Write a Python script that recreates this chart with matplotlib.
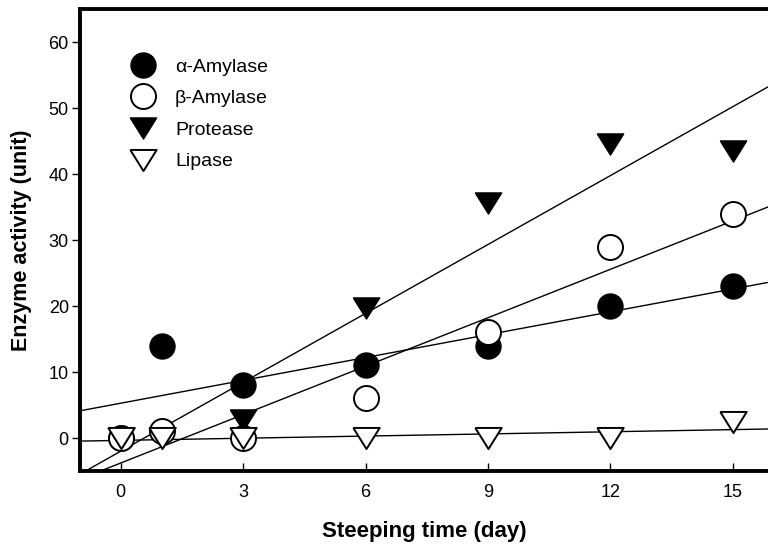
import numpy as np
import matplotlib
matplotlib.use("Agg")
import matplotlib.pyplot as plt
from matplotlib.lines import Line2D

plt.rcParams['font.family'] = ['Liberation Sans', 'DejaVu Sans']

# Steeping time (days) and enzyme activities
days = [0, 1, 3, 6, 9, 12, 15]
alpha_amylase = [0, 14, 8, 11, 14, 20, 23]
beta_amylase = [0, 1, 0, 6, 16, 29, 34]
protease = [0, 0, 2.7, 19.7, 35.6, 44.6, 43.5]
lipase = [0, 0, 0, 0, 0, 0, 2.5]

series_labels = ['α-Amylase', 'β-Amylase', 'Protease', 'Lipase']
x_ticks = [0, 3, 6, 9, 12, 15]
y_ticks = [0, 10, 20, 30, 40, 50, 60]

XLIM = (-1, 15.86)
YLIM = (-5, 65)

fig = plt.figure(figsize=(7.68, 5.5), dpi=100)
ax = fig.add_axes([0.104, 0.1436, 0.896, 0.84])

# downward triangle, a little wider than tall
tri = [(-1, 0.8), (1, 0.8), (0, -0.8), (-1, 0.8)]

styles = [
    dict(marker='o', ms=18, mfc='black', mec='black', mew=1.0),
    dict(marker='o', ms=18, mfc='white', mec='black', mew=1.4),
    dict(marker=tri, ms=19, mfc='black', mec='black', mew=1.0),
    dict(marker=tri, ms=19, mfc='white', mec='black', mew=1.4),
]
data = [alpha_amylase, beta_amylase, protease, lipase]

# least-squares trend line for each enzyme
xfit = np.linspace(XLIM[0], XLIM[1], 200)
x_arr = np.array(days, dtype=float)
for y in data:
    slope, intercept = np.polyfit(x_arr, np.array(y, dtype=float), 1)
    ax.plot(xfit, slope * xfit + intercept, color='black', lw=1.0, zorder=2)

for i, (y, st) in enumerate(zip(data, styles)):
    ax.plot(days, y, linestyle='none', zorder=3 + i, **st)

ax.set_xlim(*XLIM)
ax.set_ylim(*YLIM)
ax.set_xticks(x_ticks)
ax.set_yticks(y_ticks)

for side in ['left', 'bottom', 'top']:
    ax.spines[side].set_linewidth(2.8)
ax.spines['right'].set_visible(False)

ax.tick_params(axis='x', direction='in', length=6, width=1, labelsize=13, pad=9)
ax.tick_params(axis='y', direction='out', length=6, width=1, labelsize=13, pad=2)

ax.set_xlabel('Steeping time (day)', fontsize=16, fontweight='bold', labelpad=15)
ax.set_ylabel('Enzyme activity (unit)', fontsize=15.5, fontweight='bold', labelpad=12)

handles = [Line2D([], [], linestyle='none', **st) for st in styles]
ax.legend(handles, series_labels, loc='upper left', bbox_to_anchor=(0.0577, 0.911),
          frameon=False, fontsize=14, handlelength=1.6, handletextpad=0.85,
          labelspacing=0.72, borderaxespad=0, borderpad=0.4)

fig.savefig('out.png', dpi=100)
